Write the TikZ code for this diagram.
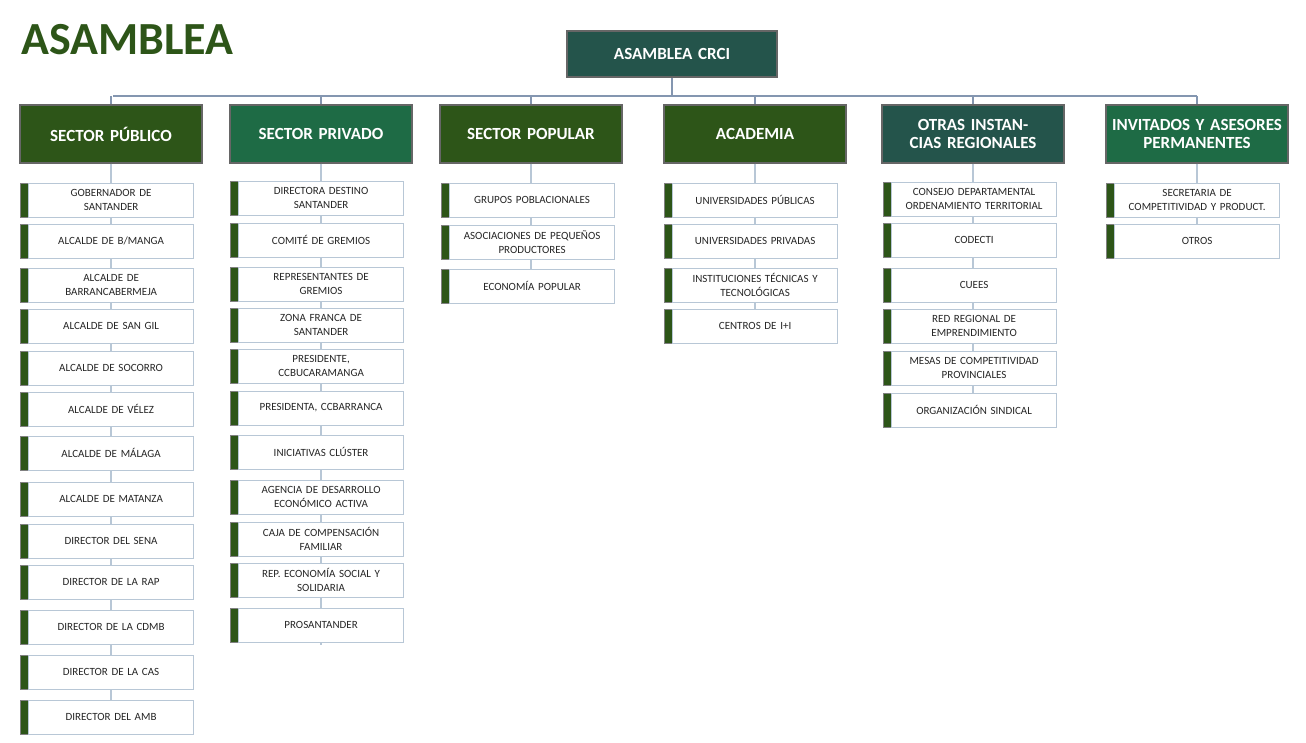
\documentclass[tikz,border=0pt]{standalone}
\usepackage{fontspec}
\setmainfont{Carlito}
\definecolor{hdgreen}{HTML}{2D5518}
\definecolor{hdmint}{HTML}{1E6B45}
\definecolor{hdteal}{HTML}{24544B}
\definecolor{wire}{HTML}{B8C7D6}
\definecolor{topwire}{HTML}{8496B0}
\definecolor{itemtext}{HTML}{262626}
\tikzset{
  head/.style={draw=gray!80!black, line width=1.2pt, minimum width=182pt, minimum height=58pt,
    text width=175pt, align=center, font=\bfseries\fontsize{17}{18}\selectfont, text=white, inner sep=0pt},
  item/.style={draw=wire, fill=white, minimum width=165pt, minimum height=34pt, text width=160pt,
    align=center, font=\fontsize{11}{14}\selectfont, text=itemtext, inner sep=0pt},
  tab/.style={draw=gray, fill=hdgreen, minimum width=8pt, minimum height=34pt, inner sep=0pt},
}
\begin{document}
\begin{tikzpicture}[x=1pt,y=-1pt]
  \useasboundingbox (0,0) rectangle (1306,742);
  \node[anchor=west, font=\bfseries\fontsize{46}{46}\selectfont, text=hdgreen] (title) at (18,40) {ASAMBLEA};
  % top box
  \node[head, fill=hdteal, minimum width=210pt, minimum height=46pt] (crci) at (672,54) {ASAMBLEA CRCI};
  % headers
  \node[head, fill=hdgreen] (pub) at (111,134) {SECTOR PÚBLICO};
  \node[head, fill=hdmint] (pri) at (321,134) {SECTOR PRIVADO};
  \node[head, fill=hdgreen] (pop) at (531,134) {SECTOR POPULAR};
  \node[head, fill=hdgreen] (aca) at (755,134) {ACADEMIA};
  \node[head, fill=hdteal] (otr) at (973,134) {OTRAS INSTANCIAS REGIONALES};
  \node[head, fill=hdmint] (inv) at (1197,134) {INVITADOS Y ASESORES PERMANENTES};
  % top bus
  \coordinate (busL) at (113,96);
  \coordinate (busR) at (1197,96);
  \draw[topwire, line width=1.5pt] (crci.south) -- (crci.south |- busL);
  \draw[topwire, line width=1.5pt] (busL) -- (busR);
  \foreach \h in {pub,pri,pop,aca,otr,inv}
    \draw[topwire, line width=1.5pt] (\h.north |- busL) -- (\h.north);
  % columns: text/y
  \def\colpub{{GOBERNADOR DE\\SANTANDER}/200,{ALCALDE DE B/MANGA}/241,{ALCALDE DE\\BARRANCABERMEJA}/285,{ALCALDE DE SAN GIL}/326,{ALCALDE DE SOCORRO}/368,{ALCALDE DE VÉLEZ}/409,{ALCALDE DE MÁLAGA}/453,{ALCALDE DE MATANZA}/499,{DIRECTOR DEL SENA}/541,{DIRECTOR DE LA RAP}/582,{DIRECTOR DE LA CDMB}/627,{DIRECTOR DE LA CAS}/672,{DIRECTOR DEL AMB}/717}
  \def\colpri{{DIRECTORA DESTINO\\SANTANDER}/198,{COMITÉ DE GREMIOS}/240,{REPRESENTANTES DE\\GREMIOS}/284,{ZONA FRANCA DE\\SANTANDER}/325,{PRESIDENTE,\\CCBUCARAMANGA}/366,{PRESIDENTA, CCBARRANCA}/408,{INICIATIVAS CLÚSTER}/452,{AGENCIA DE DESARROLLO\\ECONÓMICO ACTIVA}/497,{CAJA DE COMPENSACIÓN\\FAMILIAR}/539,{REP. ECONOMÍA SOCIAL Y\\SOLIDARIA}/580,{PROSANTANDER}/625}
  \def\colpop{{GRUPOS POBLACIONALES}/200,{ASOCIACIONES DE PEQUEÑOS\\PRODUCTORES}/242,{ECONOMÍA POPULAR}/286}
  \def\colaca{{UNIVERSIDADES PÚBLICAS}/200,{UNIVERSIDADES PRIVADAS}/241,{INSTITUCIONES TÉCNICAS Y\\TECNOLÓGICAS}/285,{CENTROS DE I+I}/326}
  \def\colotr{{CONSEJO DEPARTAMENTAL\\ORDENAMIENTO TERRITORIAL}/199,{CODECTI}/240,{CUEES}/285,{RED REGIONAL DE\\EMPRENDIMIENTO}/326,{MESAS DE COMPETITIVIDAD\\PROVINCIALES}/368,{ORGANIZACIÓN SINDICAL}/410}
  \def\colinv{{SECRETARIA DE\\COMPETITIVIDAD Y PRODUCT.}/200,{OTROS}/241}
  \foreach \h/\x/\lasty in {pub/20/717,pri/230/645,pop/441/286,aca/664/326,otr/883/410,inv/1106/241}{
    \draw[wire, line width=1.5pt] (\h.south) -- (\h.south |- 0,\lasty);
    \expandafter\let\expandafter\col\csname col\h\endcsname
    \foreach \txt/\y [count=\i] in \col {
      \node[tab, anchor=west] (\h tab\i) at (\x,\y) {};
      \node[item, anchor=west] (\h\i) at (\h tab\i.east) {\txt};
    }
  }
\end{tikzpicture}
\end{document}
